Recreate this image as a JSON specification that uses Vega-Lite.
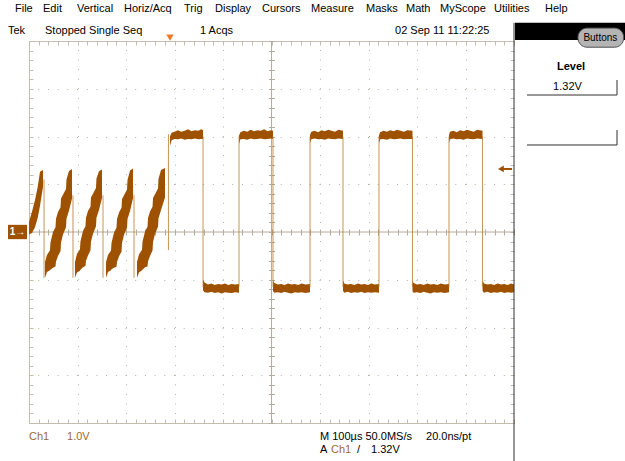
{
  "$schema": "https://vega.github.io/schema/vega-lite/v6.json",
  "width": 485,
  "height": 382,
  "autosize": {"type": "none"},
  "padding": {"left": 29, "top": 41, "right": 111, "bottom": 38},
  "background": "white",
  "config": {
    "view": {"stroke": null},
    "axis": {"labels": false, "grid": false, "domain": false, "ticks": false},
    "text": {"font": "Liberation Sans", "fontSize": 11}
  },
  "datasets": {
    "trace": [
      {"s":"s1","t":-500,"hi":0.21,"lo":-0.05},{"s":"s1","t":-494,"hi":0.42,"lo":-0.02},{"s":"s1","t":-487.6,"hi":0.67,"lo":0.10},{"s":"s1","t":-482,"hi":0.95,"lo":0.30},{"s":"s1","t":-477.3,"hi":1.26,"lo":0.55},{"s":"s1","t":-471.1,"hi":1.30,"lo":0.95},
      {"s":"s2","t":-467.0,"hi":-0.63,"lo":-0.96},{"s":"s2","t":-462.9,"hi":-0.48,"lo":-0.84},{"s":"s2","t":-456.7,"hi":-0.38,"lo":-0.80},{"s":"s2","t":-455.7,"hi":-0.22,"lo":-0.79},{"s":"s2","t":-450.5,"hi":0.0,"lo":-0.75},{"s":"s2","t":-445.4,"hi":0.10,"lo":-0.72},{"s":"s2","t":-444.3,"hi":0.28,"lo":-0.62},{"s":"s2","t":-440.2,"hi":0.42,"lo":-0.50},{"s":"s2","t":-435.0,"hi":0.52,"lo":-0.40},{"s":"s2","t":-434.0,"hi":0.70,"lo":-0.22},{"s":"s2","t":-429.9,"hi":0.78,"lo":-0.05},{"s":"s2","t":-423.7,"hi":0.90,"lo":0.10},{"s":"s2","t":-422.7,"hi":1.10,"lo":0.28},{"s":"s2","t":-417.5,"hi":1.28,"lo":0.45},{"s":"s2","t":-411.3,"hi":1.32,"lo":0.70},
      {"s":"s3","t":-405.2,"hi":-0.63,"lo":-0.96},{"s":"s3","t":-401.1,"hi":-0.46,"lo":-0.85},{"s":"s3","t":-394.9,"hi":-0.36,"lo":-0.81},{"s":"s3","t":-393.9,"hi":-0.20,"lo":-0.79},{"s":"s3","t":-388.7,"hi":0.02,"lo":-0.74},{"s":"s3","t":-383.6,"hi":0.12,"lo":-0.71},{"s":"s3","t":-382.5,"hi":0.30,"lo":-0.60},{"s":"s3","t":-378.4,"hi":0.44,"lo":-0.49},{"s":"s3","t":-373.2,"hi":0.53,"lo":-0.38},{"s":"s3","t":-372.2,"hi":0.72,"lo":-0.20},{"s":"s3","t":-368.1,"hi":0.80,"lo":-0.04},{"s":"s3","t":-361.9,"hi":0.92,"lo":0.12},{"s":"s3","t":-360.9,"hi":1.12,"lo":0.30},{"s":"s3","t":-355.7,"hi":1.27,"lo":0.46},{"s":"s3","t":-349.5,"hi":1.31,"lo":0.71},
      {"s":"s4","t":-341.2,"hi":-0.63,"lo":-0.96},{"s":"s4","t":-337.1,"hi":-0.48,"lo":-0.84},{"s":"s4","t":-330.9,"hi":-0.39,"lo":-0.80},{"s":"s4","t":-329.9,"hi":-0.23,"lo":-0.78},{"s":"s4","t":-324.7,"hi":-0.01,"lo":-0.75},{"s":"s4","t":-319.6,"hi":0.09,"lo":-0.73},{"s":"s4","t":-318.5,"hi":0.27,"lo":-0.63},{"s":"s4","t":-314.4,"hi":0.41,"lo":-0.51},{"s":"s4","t":-309.2,"hi":0.51,"lo":-0.41},{"s":"s4","t":-308.2,"hi":0.69,"lo":-0.23},{"s":"s4","t":-304.1,"hi":0.77,"lo":-0.06},{"s":"s4","t":-297.9,"hi":0.89,"lo":0.09},{"s":"s4","t":-296.9,"hi":1.09,"lo":0.27},{"s":"s4","t":-291.7,"hi":1.29,"lo":0.44},{"s":"s4","t":-285.5,"hi":1.33,"lo":0.71},
      {"s":"s5","t":-277.3,"hi":-0.63,"lo":-0.96},{"s":"s5","t":-273.2,"hi":-0.47,"lo":-0.85},{"s":"s5","t":-267.0,"hi":-0.37,"lo":-0.80},{"s":"s5","t":-266.0,"hi":-0.21,"lo":-0.79},{"s":"s5","t":-260.8,"hi":0.01,"lo":-0.74},{"s":"s5","t":-255.7,"hi":0.11,"lo":-0.72},{"s":"s5","t":-254.6,"hi":0.29,"lo":-0.61},{"s":"s5","t":-250.5,"hi":0.43,"lo":-0.50},{"s":"s5","t":-245.3,"hi":0.53,"lo":-0.39},{"s":"s5","t":-244.3,"hi":0.71,"lo":-0.21},{"s":"s5","t":-240.2,"hi":0.79,"lo":-0.04},{"s":"s5","t":-234.0,"hi":0.91,"lo":0.11},{"s":"s5","t":-233.0,"hi":1.11,"lo":0.29},{"s":"s5","t":-227.8,"hi":1.30,"lo":0.46},{"s":"s5","t":-219.6,"hi":1.34,"lo":0.72},
      {"s":"h1","t":-209.3,"hi":2.0,"lo":1.8},{"s":"h1","t":-206,"hi":2.08,"lo":1.92},{"s":"h1","t":-200,"hi":2.10,"lo":1.95},{"s":"h1","t":-193,"hi":2.13,"lo":1.94},{"s":"h1","t":-186,"hi":2.10,"lo":1.96},{"s":"h1","t":-179,"hi":2.12,"lo":1.93},{"s":"h1","t":-172,"hi":2.15,"lo":1.95},{"s":"h1","t":-165,"hi":2.11,"lo":1.94},{"s":"h1","t":-158,"hi":2.13,"lo":1.96},{"s":"h1","t":-151,"hi":2.12,"lo":1.94},{"s":"h1","t":-145,"hi":2.15,"lo":1.95},{"s":"h1","t":-141.2,"hi":2.13,"lo":1.95},
      {"s":"l1","t":-141.2,"hi":-1.0,"lo":-1.22},{"s":"l1","t":-138,"hi":-1.06,"lo":-1.26},{"s":"l1","t":-131,"hi":-1.10,"lo":-1.27},{"s":"l1","t":-124,"hi":-1.08,"lo":-1.25},{"s":"l1","t":-117,"hi":-1.11,"lo":-1.28},{"s":"l1","t":-110,"hi":-1.09,"lo":-1.26},{"s":"l1","t":-103,"hi":-1.10,"lo":-1.29},{"s":"l1","t":-96,"hi":-1.08,"lo":-1.26},{"s":"l1","t":-89,"hi":-1.11,"lo":-1.27},{"s":"l1","t":-82,"hi":-1.09,"lo":-1.28},{"s":"l1","t":-75,"hi":-1.10,"lo":-1.26},{"s":"l1","t":-67.0,"hi":-1.09,"lo":-1.27},
      {"s":"h2","t":-67.0,"hi":2.02,"lo":1.85},{"s":"h2","t":-64,"hi":2.09,"lo":1.94},{"s":"h2","t":-57,"hi":2.12,"lo":1.95},{"s":"h2","t":-50,"hi":2.10,"lo":1.93},{"s":"h2","t":-43,"hi":2.14,"lo":1.96},{"s":"h2","t":-36,"hi":2.11,"lo":1.94},{"s":"h2","t":-29,"hi":2.13,"lo":1.95},{"s":"h2","t":-22,"hi":2.12,"lo":1.96},{"s":"h2","t":-15,"hi":2.15,"lo":1.94},{"s":"h2","t":-8,"hi":2.11,"lo":1.95},{"s":"h2","t":-1,"hi":2.13,"lo":1.96},{"s":"h2","t":3.1,"hi":2.12,"lo":1.95},
      {"s":"l2","t":3.1,"hi":-1.02,"lo":-1.24},{"s":"l2","t":6,"hi":-1.07,"lo":-1.27},{"s":"l2","t":13,"hi":-1.10,"lo":-1.26},{"s":"l2","t":20,"hi":-1.09,"lo":-1.28},{"s":"l2","t":27,"hi":-1.11,"lo":-1.25},{"s":"l2","t":34,"hi":-1.08,"lo":-1.27},{"s":"l2","t":41,"hi":-1.10,"lo":-1.29},{"s":"l2","t":48,"hi":-1.09,"lo":-1.26},{"s":"l2","t":55,"hi":-1.11,"lo":-1.27},{"s":"l2","t":62,"hi":-1.08,"lo":-1.26},{"s":"l2","t":70,"hi":-1.10,"lo":-1.28},{"s":"l2","t":79.4,"hi":-1.09,"lo":-1.26},
      {"s":"h3","t":79.4,"hi":2.03,"lo":1.86},{"s":"h3","t":82,"hi":2.10,"lo":1.94},{"s":"h3","t":89,"hi":2.12,"lo":1.96},{"s":"h3","t":96,"hi":2.09,"lo":1.94},{"s":"h3","t":103,"hi":2.13,"lo":1.95},{"s":"h3","t":110,"hi":2.11,"lo":1.93},{"s":"h3","t":117,"hi":2.14,"lo":1.96},{"s":"h3","t":124,"hi":2.12,"lo":1.95},{"s":"h3","t":131,"hi":2.10,"lo":1.94},{"s":"h3","t":138,"hi":2.14,"lo":1.96},{"s":"h3","t":147.4,"hi":2.12,"lo":1.95},
      {"s":"l3","t":147.4,"hi":-1.01,"lo":-1.23},{"s":"l3","t":150,"hi":-1.08,"lo":-1.27},{"s":"l3","t":157,"hi":-1.10,"lo":-1.25},{"s":"l3","t":164,"hi":-1.09,"lo":-1.28},{"s":"l3","t":171,"hi":-1.11,"lo":-1.26},{"s":"l3","t":178,"hi":-1.08,"lo":-1.27},{"s":"l3","t":185,"hi":-1.10,"lo":-1.25},{"s":"l3","t":192,"hi":-1.09,"lo":-1.28},{"s":"l3","t":199,"hi":-1.11,"lo":-1.26},{"s":"l3","t":206,"hi":-1.08,"lo":-1.27},{"s":"l3","t":213,"hi":-1.10,"lo":-1.26},{"s":"l3","t":221.6,"hi":-1.09,"lo":-1.27},
      {"s":"h4","t":221.6,"hi":2.02,"lo":1.86},{"s":"h4","t":224,"hi":2.09,"lo":1.94},{"s":"h4","t":231,"hi":2.12,"lo":1.95},{"s":"h4","t":238,"hi":2.10,"lo":1.93},{"s":"h4","t":245,"hi":2.13,"lo":1.96},{"s":"h4","t":252,"hi":2.11,"lo":1.94},{"s":"h4","t":259,"hi":2.14,"lo":1.95},{"s":"h4","t":266,"hi":2.12,"lo":1.96},{"s":"h4","t":273,"hi":2.10,"lo":1.94},{"s":"h4","t":280,"hi":2.13,"lo":1.95},{"s":"h4","t":290.7,"hi":2.12,"lo":1.95},
      {"s":"l4","t":290.7,"hi":-1.02,"lo":-1.24},{"s":"l4","t":293,"hi":-1.07,"lo":-1.27},{"s":"l4","t":300,"hi":-1.10,"lo":-1.26},{"s":"l4","t":307,"hi":-1.09,"lo":-1.28},{"s":"l4","t":314,"hi":-1.11,"lo":-1.25},{"s":"l4","t":321,"hi":-1.08,"lo":-1.27},{"s":"l4","t":328,"hi":-1.10,"lo":-1.29},{"s":"l4","t":335,"hi":-1.09,"lo":-1.26},{"s":"l4","t":342,"hi":-1.11,"lo":-1.27},{"s":"l4","t":349,"hi":-1.08,"lo":-1.26},{"s":"l4","t":357,"hi":-1.10,"lo":-1.28},{"s":"l4","t":366.0,"hi":-1.09,"lo":-1.26},
      {"s":"h5","t":366.0,"hi":2.03,"lo":1.86},{"s":"h5","t":368,"hi":2.10,"lo":1.94},{"s":"h5","t":375,"hi":2.12,"lo":1.96},{"s":"h5","t":382,"hi":2.09,"lo":1.94},{"s":"h5","t":389,"hi":2.13,"lo":1.95},{"s":"h5","t":396,"hi":2.11,"lo":1.93},{"s":"h5","t":403,"hi":2.14,"lo":1.96},{"s":"h5","t":410,"hi":2.12,"lo":1.95},{"s":"h5","t":417,"hi":2.10,"lo":1.94},{"s":"h5","t":424,"hi":2.14,"lo":1.96},{"s":"h5","t":435.1,"hi":2.12,"lo":1.95},
      {"s":"l5","t":435.1,"hi":-1.01,"lo":-1.23},{"s":"l5","t":438,"hi":-1.08,"lo":-1.27},{"s":"l5","t":445,"hi":-1.10,"lo":-1.25},{"s":"l5","t":452,"hi":-1.09,"lo":-1.28},{"s":"l5","t":459,"hi":-1.11,"lo":-1.26},{"s":"l5","t":466,"hi":-1.08,"lo":-1.27},{"s":"l5","t":473,"hi":-1.10,"lo":-1.25},{"s":"l5","t":480,"hi":-1.09,"lo":-1.28},{"s":"l5","t":487,"hi":-1.11,"lo":-1.26},{"s":"l5","t":494,"hi":-1.08,"lo":-1.27},{"s":"l5","t":500,"hi":-1.10,"lo":-1.26}
    ],
    "edges": [
      {"t":-469.0,"top":1.10,"bot":-0.96},{"t":-409.3,"top":0.77,"bot":-0.96},{"t":-347.4,"top":0.77,"bot":-0.96},{"t":-283.5,"top":0.77,"bot":-0.96},{"t":-212.5,"top":2.05,"bot":-0.38},
      {"t":-141.2,"top":2.0,"bot":-1.15},{"t":-67.0,"top":2.0,"bot":-1.15},{"t":3.1,"top":2.0,"bot":-1.15},{"t":79.4,"top":2.0,"bot":-1.15},{"t":147.4,"top":2.0,"bot":-1.15},
      {"t":221.6,"top":2.0,"bot":-1.15},{"t":290.7,"top":2.0,"bot":-1.15},{"t":366.0,"top":2.0,"bot":-1.15},{"t":435.1,"top":2.0,"bot":-1.15}
    ],
    "ui": [
      {"label":"File","t":-528.9,"v":4.67},{"label":"Edit","t":-471.1,"v":4.67},{"label":"Vertical","t":-401.0,"v":4.67},{"label":"Horiz/Acq","t":-304.1,"v":4.67},{"label":"Trig","t":-180.4,"v":4.67},{"label":"Display","t":-116.5,"v":4.67},{"label":"Cursors","t":-19.6,"v":4.67},{"label":"Measure","t":81.4,"v":4.67},{"label":"Masks","t":194.8,"v":4.67},{"label":"Math","t":277.3,"v":4.67},{"label":"MyScope","t":347.4,"v":4.67},{"label":"Utilities","t":458.8,"v":4.67},{"label":"Help","t":564.0,"v":4.67},
      {"label":"Tek","t":-543.3,"v":4.21},{"label":"Stopped  Single Seq","t":-467.0,"v":4.21},{"label":"1 Acqs","t":-147.4,"v":4.21},{"label":"02 Sep 11 11:22:25","t":254.7,"v":4.21},
      {"label":"M 100µs 50.0MS/s","t":100.0,"v":-4.293},{"label":"20.0ns/pt","t":318.6,"v":-4.293},{"label":"A","t":100.0,"v":-4.565},{"label":"/","t":176.3,"v":-4.565},{"label":"1.32V","t":205.2,"v":-4.565}
    ],
    "chan": [
      {"label":"Ch1","t":-500,"v":-4.293},{"label":"1.0V","t":-421.6,"v":-4.293},{"label":"Ch1","t":122.7,"v":-4.565}
    ],
    "panelLines": [
      {"t":526.8,"v":2.869,"t2":712.4,"v2":2.869},{"t":712.4,"v":3.183,"t2":712.4,"v2":2.869},
      {"t":526.8,"v":1.822,"t2":712.4,"v2":1.822},{"t":712.4,"v":2.136,"t2":712.4,"v2":1.822},
      {"t":500,"v":4.38,"t2":500,"v2":-4.82}
    ]
  },
  "resolve": {"axis": {"x": "independent", "y": "independent"}},
  "layer": [
    {
      "data": {"values": [{"t": 0}]},
      "mark": {"type": "rule", "color": "#b4ac9c", "strokeWidth": 1},
      "encoding": {
        "x": {"field": "t", "type": "quantitative", "scale": {"domain": [-500, 500], "nice": false, "zero": false},
          "axis": {"orient": "bottom", "offset": -194, "title": null, "ticks": true, "tickSize": 6, "tickColor": "#b4ac9c",
            "values": [-500,-480,-460,-440,-420,-400,-380,-360,-340,-320,-300,-280,-260,-240,-220,-200,-180,-160,-140,-120,-100,-80,-60,-40,-20,0,20,40,60,80,100,120,140,160,180,200,220,240,260,280,300,320,340,360,380,400,420,440,460,480,500]}}
      }
    },
    {
      "data": {"values": [{"v": 0}]},
      "mark": {"type": "rule", "color": "#b4ac9c", "strokeWidth": 1},
      "encoding": {
        "y": {"field": "v", "type": "quantitative", "scale": {"domain": [-4, 4], "nice": false, "zero": false},
          "axis": {"orient": "left", "offset": -245.5, "title": null, "ticks": true, "tickSize": 6, "tickColor": "#b4ac9c",
            "values": [-4,-3.8,-3.6,-3.4,-3.2,-3,-2.8,-2.6,-2.4,-2.2,-2,-1.8,-1.6,-1.4,-1.2,-1,-0.8,-0.6,-0.4,-0.2,0,0.2,0.4,0.6,0.8,1,1.2,1.4,1.6,1.8,2,2.2,2.4,2.6,2.8,3,3.2,3.4,3.6,3.8,4]}}
      }
    },
    {
      "data": {"name": "trace"},
      "mark": {"type": "area", "color": "#9e5200"},
      "encoding": {
        "x": {"field": "t", "type": "quantitative", "scale": {"domain": [-500, 500], "nice": false, "zero": false},
          "axis": {"title": null, "grid": true, "gridColor": "#b8b0a0", "gridDash": [1, 8.55], "gridWidth": 1,
            "values": [-400,-300,-200,-100,100,200,300,400]}},
        "y": {"field": "hi", "type": "quantitative", "scale": {"domain": [-4, 4], "nice": false, "zero": false},
          "axis": {"title": null, "grid": true, "gridColor": "#b8b0a0", "gridDash": [1, 8.7], "gridWidth": 1,
            "values": [-3,-2,-1,1,2,3]}},
        "y2": {"field": "lo"},
        "detail": {"field": "s", "type": "nominal"}
      }
    },
    {
      "data": {"name": "edges"},
      "mark": {"type": "rule", "color": "#b87a30", "strokeWidth": 1, "opacity": 0.8},
      "encoding": {
        "x": {"field": "t", "type": "quantitative", "scale": {"domain": [-500, 500], "nice": false, "zero": false},
          "axis": {"orient": "top", "offset": -382, "title": null, "domain": true, "domainColor": "#c4bcae", "ticks": true, "tickSize": 4, "tickColor": "#c4bcae",
            "values": [-500,-480,-460,-440,-420,-400,-380,-360,-340,-320,-300,-280,-260,-240,-220,-200,-180,-160,-140,-120,-100,-80,-60,-40,-20,0,20,40,60,80,100,120,140,160,180,200,220,240,260,280,300,320,340,360,380,400,420,440,460,480,500]}},
        "y": {"field": "top", "type": "quantitative", "scale": {"domain": [-4, 4], "nice": false, "zero": false},
          "axis": {"orient": "right", "offset": -485, "title": null, "domain": true, "domainColor": "#c4bcae", "ticks": true, "tickSize": 4, "tickColor": "#c4bcae",
            "values": [-4,-3.8,-3.6,-3.4,-3.2,-3,-2.8,-2.6,-2.4,-2.2,-2,-1.8,-1.6,-1.4,-1.2,-1,-0.8,-0.6,-0.4,-0.2,0,0.2,0.4,0.6,0.8,1,1.2,1.4,1.6,1.8,2,2.2,2.4,2.6,2.8,3,3.2,3.4,3.6,3.8,4]}},
        "y2": {"field": "bot"}
      }
    },
    {
      "data": {"name": "ui"},
      "mark": {"type": "text", "align": "left", "baseline": "middle", "color": "#000000"},
      "encoding": {
        "x": {"field": "t", "type": "quantitative", "scale": {"domain": [-500, 500], "nice": false, "zero": false},
          "axis": {"orient": "bottom", "offset": -382, "title": null, "domain": true, "domainColor": "#c4bcae", "ticks": true, "tickSize": 4, "tickColor": "#c4bcae",
            "values": [-500,-480,-460,-440,-420,-400,-380,-360,-340,-320,-300,-280,-260,-240,-220,-200,-180,-160,-140,-120,-100,-80,-60,-40,-20,0,20,40,60,80,100,120,140,160,180,200,220,240,260,280,300,320,340,360,380,400,420,440,460,480,500]}},
        "y": {"field": "v", "type": "quantitative", "scale": {"domain": [-4, 4], "nice": false, "zero": false},
          "axis": {"orient": "left", "offset": -485, "title": null, "domain": false, "ticks": true, "tickSize": 4, "tickColor": "#c4bcae",
            "values": [-4,-3.8,-3.6,-3.4,-3.2,-3,-2.8,-2.6,-2.4,-2.2,-2,-1.8,-1.6,-1.4,-1.2,-1,-0.8,-0.6,-0.4,-0.2,0,0.2,0.4,0.6,0.8,1,1.2,1.4,1.6,1.8,2,2.2,2.4,2.6,2.8,3,3.2,3.4,3.6,3.8,4]}},
        "text": {"field": "label"}
      }
    },
    {
      "data": {"name": "chan"},
      "mark": {"type": "text", "align": "left", "baseline": "middle", "color": "#9c6a2c"},
      "encoding": {
        "x": {"field": "t", "type": "quantitative", "axis": null},
        "y": {"field": "v", "type": "quantitative", "axis": null},
        "text": {"field": "label"}
      }
    },
    {
      "data": {"name": "panelLines"},
      "mark": {"type": "rule", "color": "#303030", "strokeWidth": 1},
      "encoding": {
        "x": {"field": "t", "type": "quantitative", "axis": null},
        "y": {"field": "v", "type": "quantitative", "axis": null},
        "x2": {"field": "t2"},
        "y2": {"field": "v2"}
      }
    },
    {
      "data": {"values": [{"t": 502.1, "t2": 730, "v": 4.38, "v2": 4.021}]},
      "mark": {"type": "rect", "color": "#000000"},
      "encoding": {
        "x": {"field": "t", "type": "quantitative", "axis": null},
        "x2": {"field": "t2"},
        "y": {"field": "v", "type": "quantitative", "axis": null},
        "y2": {"field": "v2"}
      }
    },
    {
      "data": {"values": [{"t": 632, "t2": 726, "v": 4.27, "v2": 3.87}]},
      "mark": {"type": "rect", "fill": "#b4b4b4", "stroke": "#505050", "strokeWidth": 1, "cornerRadius": 9},
      "encoding": {
        "x": {"field": "t", "type": "quantitative", "axis": null},
        "x2": {"field": "t2"},
        "y": {"field": "v", "type": "quantitative", "axis": null},
        "y2": {"field": "v2"}
      }
    },
    {
      "data": {"values": [{"label": "Buttons", "t": 678, "v": 4.07}]},
      "mark": {"type": "text", "align": "center", "baseline": "middle", "fontSize": 10, "color": "#000000"},
      "encoding": {
        "x": {"field": "t", "type": "quantitative", "axis": null},
        "y": {"field": "v", "type": "quantitative", "axis": null},
        "text": {"field": "label"}
      }
    },
    {
      "data": {"values": [{"label": "Level", "t": 617.5, "v": 3.455}]},
      "mark": {"type": "text", "align": "center", "baseline": "middle", "fontWeight": "bold", "fontSize": 11, "color": "#000000"},
      "encoding": {
        "x": {"field": "t", "type": "quantitative", "axis": null},
        "y": {"field": "v", "type": "quantitative", "axis": null},
        "text": {"field": "label"}
      }
    },
    {
      "data": {"values": [{"label": "1.32V", "t": 610.3, "v": 3.037}]},
      "mark": {"type": "text", "align": "center", "baseline": "middle", "color": "#000000"},
      "encoding": {
        "x": {"field": "t", "type": "quantitative", "axis": null},
        "y": {"field": "v", "type": "quantitative", "axis": null},
        "text": {"field": "label"}
      }
    },
    {
      "data": {"values": [{"t": -543.3, "t2": -504, "v": 0.15, "v2": -0.15}]},
      "mark": {"type": "rect", "color": "#9e5200"},
      "encoding": {
        "x": {"field": "t", "type": "quantitative", "axis": null},
        "x2": {"field": "t2"},
        "y": {"field": "v", "type": "quantitative", "axis": null},
        "y2": {"field": "v2"}
      }
    },
    {
      "data": {"values": [{"label": "1→", "t": -523.7, "v": 0}]},
      "mark": {"type": "text", "align": "center", "baseline": "middle", "fontSize": 10, "fontWeight": "bold", "color": "#ffffff"},
      "encoding": {
        "x": {"field": "t", "type": "quantitative", "axis": null},
        "y": {"field": "v", "type": "quantitative", "axis": null},
        "text": {"field": "label"}
      }
    },
    {
      "data": {"values": [{"t": 474, "t2": 496, "v": 1.32}]},
      "mark": {"type": "rule", "color": "#9e5200", "strokeWidth": 2},
      "encoding": {
        "x": {"field": "t", "type": "quantitative", "axis": null},
        "x2": {"field": "t2"},
        "y": {"field": "v", "type": "quantitative", "axis": null}
      }
    },
    {
      "data": {"values": [{"t": 473, "v": 1.32}]},
      "mark": {"type": "point", "shape": "triangle-left", "filled": true, "size": 45, "color": "#9e5200", "opacity": 1},
      "encoding": {
        "x": {"field": "t", "type": "quantitative", "axis": null},
        "y": {"field": "v", "type": "quantitative", "axis": null}
      }
    },
    {
      "data": {"values": [{"t": -209.3, "v": 4.07}]},
      "mark": {"type": "point", "shape": "triangle-down", "filled": true, "size": 55, "color": "#f07828", "opacity": 1},
      "encoding": {
        "x": {"field": "t", "type": "quantitative", "axis": null},
        "y": {"field": "v", "type": "quantitative", "axis": null}
      }
    }
  ]
}
